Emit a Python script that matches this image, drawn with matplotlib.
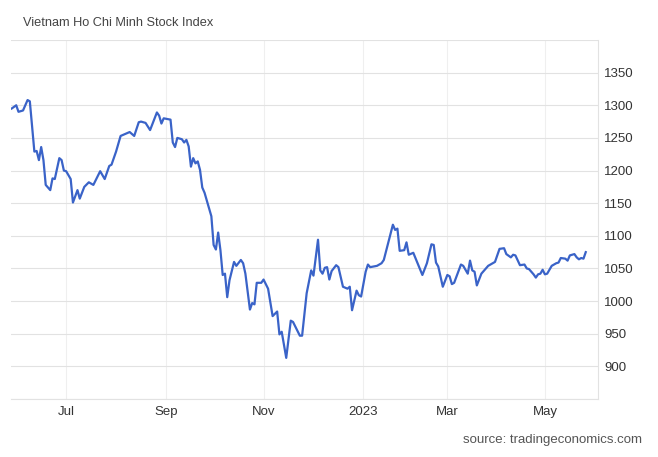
import numpy as np
import matplotlib
matplotlib.use("Agg")
import matplotlib.pyplot as plt

plt.rcParams['font.family'] = ['Liberation Sans', 'DejaVu Sans']

DATES = [
    '2022-05-30', '2022-06-01', '2022-06-02', '2022-06-06', '2022-06-08', '2022-06-09',
    '2022-06-13', '2022-06-14', '2022-06-15', '2022-06-16', '2022-06-17', '2022-06-20',
    '2022-06-22', '2022-06-23', '2022-06-24', '2022-06-28', '2022-06-29', '2022-06-30',
    '2022-07-01', '2022-07-05', '2022-07-06', '2022-07-08', '2022-07-11', '2022-07-13',
    '2022-07-15', '2022-07-19', '2022-07-22', '2022-07-26', '2022-07-28', '2022-07-29',
    '2022-08-02', '2022-08-04', '2022-08-08', '2022-08-10', '2022-08-12', '2022-08-16',
    '2022-08-17', '2022-08-19', '2022-08-23', '2022-08-25', '2022-08-26', '2022-08-29',
    '2022-08-30', '2022-08-31', '2022-09-05', '2022-09-06', '2022-09-07', '2022-09-08',
    '2022-09-12', '2022-09-13', '2022-09-14', '2022-09-15', '2022-09-16', '2022-09-19',
    '2022-09-20', '2022-09-21', '2022-09-22', '2022-09-23', '2022-09-26', '2022-09-28',
    '2022-09-29', '2022-09-30', '2022-10-03', '2022-10-04', '2022-10-05', '2022-10-06',
    '2022-10-07', '2022-10-10', '2022-10-11', '2022-10-13', '2022-10-14', '2022-10-18',
    '2022-10-19', '2022-10-20', '2022-10-24', '2022-10-25', '2022-10-26', '2022-10-27',
    '2022-10-31', '2022-11-01', '2022-11-03', '2022-11-07', '2022-11-09', '2022-11-10',
    '2022-11-11', '2022-11-15', '2022-11-17', '2022-11-18', '2022-11-23', '2022-11-24',
    '2022-11-28', '2022-11-30', '2022-12-01', '2022-12-05', '2022-12-06', '2022-12-07',
    '2022-12-08', '2022-12-09', '2022-12-12', '2022-12-13', '2022-12-15', '2022-12-16',
    '2022-12-20', '2022-12-22', '2022-12-23', '2022-12-26', '2022-12-28', '2022-12-29',
    '2022-12-30', '2023-01-03', '2023-01-04', '2023-01-05', '2023-01-10', '2023-01-12',
    '2023-01-13', '2023-01-17', '2023-01-19', '2023-01-27', '2023-01-30', '2023-01-31',
    '2023-02-02', '2023-02-03', '2023-02-06', '2023-02-08', '2023-02-14', '2023-02-16',
    '2023-02-20', '2023-02-21', '2023-02-22', '2023-02-23', '2023-02-27', '2023-03-01',
    '2023-03-02', '2023-03-03', '2023-03-06', '2023-03-09', '2023-03-10', '2023-03-14',
    '2023-03-15', '2023-03-16', '2023-03-17', '2023-03-20', '2023-03-22', '2023-03-27',
    '2023-03-30', '2023-04-03', '2023-04-05', '2023-04-06', '2023-04-10', '2023-04-11',
    '2023-04-12', '2023-04-14', '2023-04-18', '2023-04-19', '2023-04-20', '2023-04-24',
    '2023-04-25', '2023-04-26', '2023-04-27', '2023-04-28', '2023-05-01', '2023-05-02',
    '2023-05-04', '2023-05-08', '2023-05-09', '2023-05-10', '2023-05-12', '2023-05-15',
    '2023-05-16', '2023-05-18', '2023-05-19', '2023-05-22', '2023-05-23', '2023-05-24',
    '2023-05-25',
]
CLOSE = [
    1295, 1300, 1290, 1292, 1308, 1306,
    1229, 1230, 1216, 1236, 1216, 1178,
    1170, 1188, 1187, 1219, 1216, 1200,
    1199, 1187, 1151, 1170, 1157, 1175,
    1182, 1178, 1199, 1187, 1207, 1209,
    1229, 1253, 1256, 1259, 1253, 1274,
    1275, 1273, 1262, 1280, 1289, 1284,
    1272, 1280, 1278, 1243, 1236, 1250,
    1248, 1243, 1247, 1237, 1206, 1219,
    1211, 1214, 1201, 1174, 1166, 1142,
    1130, 1086, 1079, 1105, 1078, 1040,
    1042, 1006, 1032, 1060, 1054, 1063,
    1058, 1042, 987, 997, 995, 1028,
    1028, 1033, 1019, 977, 984, 949,
    953, 913, 970, 968, 947, 947,
    1012, 1047, 1039, 1094, 1047, 1042,
    1051, 1052, 1033, 1046, 1055, 1052,
    1022, 1019, 1022, 986, 1016, 1009,
    1007, 1045, 1056, 1052, 1054, 1058,
    1063, 1090, 1117, 1109, 1111, 1077,
    1078, 1090, 1071, 1074, 1040, 1058,
    1087, 1086, 1059, 1053, 1022, 1040,
    1038, 1026, 1028, 1056, 1054, 1042,
    1062, 1047, 1045, 1024, 1042, 1054,
    1060, 1080, 1081, 1072, 1067, 1071,
    1070, 1055, 1056, 1050, 1049, 1041,
    1036, 1041, 1042, 1048, 1041, 1042,
    1054, 1058, 1059, 1066, 1065, 1062,
    1070, 1072, 1067, 1064, 1066, 1065,
    1075,
]

TET_HOLIDAYS = ['2023-01-20', '2023-01-23', '2023-01-24', '2023-01-25', '2023-01-26']

TICK_DATES = ['2022-07-01', '2022-09-01', '2022-11-01', '2023-01-01', '2023-03-01', '2023-05-01']
TICK_LABELS = ['Jul', 'Sep', 'Nov', '2023', 'Mar', 'May']
Y_GRID = [850, 900, 950, 1000, 1050, 1100, 1150, 1200, 1250, 1300, 1350, 1400]


def session(days):
    # x axis runs on trading sessions, like the source chart
    return np.busday_count('2022-05-30', np.array(days, dtype='datetime64[D]'),
                           holidays=TET_HOLIDAYS)


x = session(DATES)

fig = plt.figure(figsize=(6.58, 4.57), dpi=100)
ax = fig.add_axes([11 / 658, 1 - 399 / 457, 587 / 658, 359 / 457])

ax.plot(x, CLOSE, color='#3a63c8', lw=1.6, solid_joinstyle='round')

ax.set_ylim(850, 1400)
ax.set_xlim(x[0] - 0.3, x[-1] + 5.4)

ax.set_yticks(Y_GRID, ['' if v in (850, 1400) else str(v) for v in Y_GRID])
ax.yaxis.tick_right()
ax.tick_params(axis='y', length=0, pad=4.5, labelsize=9.5, labelcolor='#333333')

ax.set_xticks(session(TICK_DATES), TICK_LABELS)
ax.tick_params(axis='x', length=0, pad=5, labelsize=9.5, labelcolor='#333333')

ax.grid(axis='y', color='#e2e2e2', lw=0.8)
ax.grid(axis='x', color='#efefef', lw=0.8)
ax.set_axisbelow(True)

for side in ['left', 'top']:
    ax.spines[side].set_visible(False)
for side in ['right', 'bottom']:
    ax.spines[side].set_color('#e2e2e2')
    ax.spines[side].set_linewidth(0.8)

fig.text(23 / 658, 1 - 23 / 457, 'Vietnam Ho Chi Minh Stock Index',
         fontsize=9.2, color='#444444', va='center')
fig.text(642 / 658, 1 - 440 / 457, 'source: tradingeconomics.com',
         fontsize=9.5, color='#555555', va='center', ha='right')

fig.savefig('out.png', dpi=100)
